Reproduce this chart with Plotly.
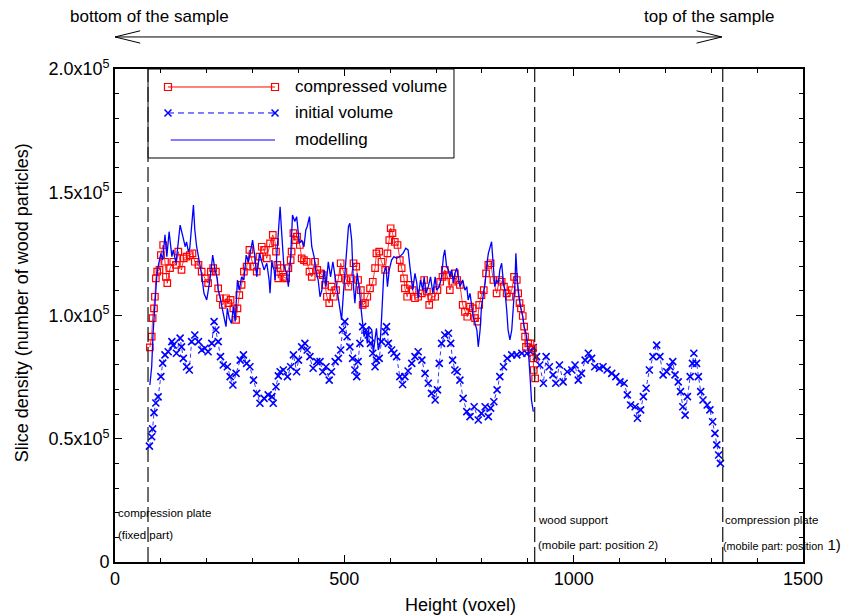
import plotly.graph_objects as go

# ---------------- data ----------------
init_x = [75, 80, 82, 85, 89, 94, 100, 104, 109, 116, 124, 127, 134, 142, 145, 149, 156, 162, 167, 174,
          182, 189, 196, 203, 211, 216, 220, 225, 230, 236, 245, 251, 257, 264, 273, 280, 287, 294, 302, 309,
          316, 325, 334, 342, 345, 351, 356, 360, 367, 376, 383, 389, 396, 400, 407, 414, 419, 425, 432, 440,
          447, 453, 460, 467, 472, 480, 487, 492, 496, 501, 506, 512, 518, 523, 527, 530, 534, 540, 547, 552,
          557, 562, 567, 570, 576, 581, 589, 592, 596, 603, 608, 614, 621, 627, 632, 639, 647, 654, 661, 669,
          676, 683, 690, 698, 703, 707, 712, 719, 727, 732, 736, 741, 746, 752, 759, 767, 774, 783, 792, 799,
          807, 814, 819, 826, 833, 839, 847, 855, 865, 876, 887, 898, 906, 912, 919, 926, 934, 940, 947, 955,
          961, 969, 977, 986, 996, 1003, 1010, 1017, 1025, 1032, 1039, 1046, 1056, 1064, 1073, 1083, 1092, 1101, 1110, 1117,
          1124, 1134, 1139, 1146, 1152, 1158, 1165, 1173, 1181, 1188, 1195, 1203, 1210, 1216, 1221, 1228, 1233, 1238, 1243, 1248,
          1254, 1259, 1262, 1268, 1272, 1277, 1282, 1291, 1297, 1303, 1308, 1312, 1316, 1320]
init_y = [47000, 50800, 54000, 60600, 64500, 67000, 75200, 80700, 84000, 85300, 89400, 88000, 84700, 90800, 87300, 82600, 79200, 77900, 89400, 92100,
          89400, 86000, 86700, 85300, 88700, 97500, 94100, 89400, 83300, 79900, 79200, 75200, 71800, 76500, 81900, 84000, 80600, 79200, 73800, 68400,
          64400, 66400, 67800, 67100, 64400, 71100, 75500, 77200, 77900, 75200, 79200, 84000, 77200, 81900, 87300, 88700, 86000, 83300, 78600, 81300,
          81300, 77200, 79200, 73800, 77200, 81300, 82600, 86000, 94100, 97500, 91400, 87300, 82600, 77900, 75200, 81300, 88700, 95500, 94100, 92100,
          88700, 84700, 79200, 81900, 82600, 89400, 93400, 95500, 88700, 86000, 84700, 83300, 75200, 72000, 75200, 77500, 80600, 83300, 85300, 81900,
          76500, 72500, 68400, 65700, 69800, 80600, 88700, 92100, 92800, 88700, 81900, 77900, 77200, 73800, 66400, 61000, 59000, 63000, 57600, 60300,
          63000, 59000, 62400, 65000, 69800, 75200, 79200, 82600, 84000, 84000, 84700, 84700, 85300, 87000, 83300, 79900, 72500, 83300, 79200, 75900,
          72500, 79900, 73100, 77200, 77900, 79900, 73800, 76500, 81900, 84700, 82600, 79200, 78600, 79200, 77900, 76500, 75200, 73100, 72500, 67800,
          63700, 63000, 58300, 61700, 67100, 70500, 77900, 83300, 88000, 83300, 75900, 77200, 79200, 81300, 75900, 73100, 69100, 63000, 59600, 67100,
          75200, 80600, 84700, 80600, 75200, 69100, 65700, 63700, 61700, 56900, 52200, 47500, 43400, 40000]

comp_x = [76, 80, 82, 85, 87, 89, 92, 97, 100, 105, 109, 111, 114, 120, 127, 133, 138, 145, 150, 156,
          163, 169, 174, 182, 189, 196, 203, 209, 214, 220, 225, 229, 235, 242, 247, 252, 258, 264, 267, 271,
          276, 281, 287, 293, 298, 303, 309, 315, 320, 325, 331, 338, 344, 349, 351, 354, 356, 361, 367, 373,
          378, 383, 385, 389, 392, 397, 403, 407, 412, 418, 424, 429, 436, 441, 447, 453, 458, 462, 467, 472,
          477, 482, 487, 492, 498, 504, 509, 514, 520, 526, 530, 536, 540, 545, 550, 556, 562, 567, 570, 576,
          581, 589, 594, 598, 601, 605, 610, 616, 621, 625, 630, 632, 637, 643, 649, 654, 661, 669, 674, 680,
          685, 690, 698, 703, 709, 714, 719, 724, 730, 736, 741, 746, 752, 758, 763, 768, 774, 780, 785, 790,
          794, 799, 804, 809, 814, 819, 825, 832, 838, 843, 848, 854, 860, 865, 870, 876, 879, 882, 885, 889,
          892, 894, 896, 901, 906, 911, 912, 913, 916]
comp_y = [87100, 91400, 98900, 102900, 107600, 115100, 117800, 118500, 124500, 128600, 121800, 115700, 113100, 119200, 121800, 120500, 125900, 118500, 123200, 123900,
          124500, 125200, 121800, 120500, 117800, 115100, 113100, 117800, 119200, 117800, 111000, 107000, 104300, 107000, 105000, 106300, 102900, 98200, 102900, 108300,
          112400, 117800, 119800, 126600, 122500, 119800, 117800, 123900, 127900, 126600, 123200, 129300, 132700, 129900, 125900, 120500, 115100, 119200, 115700, 115100,
          119200, 122500, 125900, 133400, 130600, 132000, 128600, 123200, 122500, 121800, 117800, 115700, 121800, 118500, 117100, 116400, 112400, 107600, 105000, 111700,
          107600, 110300, 115100, 121200, 117800, 114400, 111700, 115100, 121200, 119800, 114400, 110300, 104300, 105000, 107600, 111000, 113700, 119200, 125200, 125900,
          121800, 118500, 125200, 130600, 135400, 133400, 129900, 128600, 122500, 119200, 115100, 111000, 107600, 112400, 110300, 107000, 107600, 109000, 114400, 109700,
          104300, 107600, 107600, 110300, 113700, 115700, 118500, 116400, 110300, 113700, 117100, 114400, 112400, 104300, 101500, 99500, 103600, 102900, 98900, 97500,
          104300, 108300, 110300, 117100, 120500, 121200, 114400, 109000, 114400, 113700, 111700, 109000, 107600, 110300, 115700, 114400, 109000, 105000, 102900, 99800,
          95500, 91400, 87300, 88700, 88700, 86700, 82600, 77900, 74500]

model_x = [76, 80, 83, 87, 91, 94, 100, 104, 109, 113, 118, 124, 127, 133, 138, 142, 148, 153, 156, 160,
           163, 167, 171, 174, 178, 184, 189, 194, 200, 207, 213, 218, 223, 225, 229, 233, 238, 242, 245, 249,
           254, 258, 262, 267, 271, 276, 281, 286, 291, 294, 300, 305, 309, 315, 320, 325, 331, 336, 338, 342,
           344, 347, 349, 352, 354, 358, 360, 363, 368, 374, 378, 383, 387, 392, 396, 402, 407, 412, 416, 419,
           424, 429, 434, 438, 443, 447, 451, 456, 460, 465, 470, 475, 480, 485, 490, 494, 498, 504, 509, 512,
           516, 520, 523, 528, 533, 536, 540, 543, 547, 550, 554, 560, 563, 567, 570, 574, 578, 581, 585, 586,
           591, 594, 598, 603, 608, 614, 621, 628, 634, 639, 643, 649, 654, 658, 661, 666, 671, 674, 678, 683,
           688, 693, 698, 701, 707, 712, 716, 719, 723, 727, 730, 734, 738, 741, 745, 748, 752, 758, 763, 767,
           770, 774, 778, 781, 785, 789, 792, 796, 799, 803, 807, 810, 814, 818, 821, 825, 828, 832, 836, 839,
           843, 847, 850, 854, 857, 861, 865, 868, 872, 874, 877, 881, 884, 889, 892, 896, 901, 905, 908, 912]
model_y = [71800, 79200, 92800, 106300, 115700, 119800, 125200, 122500, 132700, 123900, 134000, 123900, 126600, 121200, 129300, 136700, 132000, 127900, 129900, 125900,
           127300, 136000, 144800, 134700, 127900, 121800, 116400, 109000, 106300, 114400, 124500, 118500, 115100, 110300, 107600, 103600, 98200, 95500, 102900, 98900,
           96800, 103600, 97500, 114400, 110300, 115700, 114400, 124500, 121800, 125200, 130600, 123900, 115700, 125200, 121200, 118500, 121200, 114400, 109000, 122500,
           119800, 118500, 114400, 123900, 126600, 138700, 144100, 134700, 120500, 117100, 111700, 123900, 140800, 138100, 140100, 129300, 130600, 127900, 134700, 136000,
           140100, 127900, 123900, 117800, 114400, 107600, 110300, 118500, 111700, 121800, 115700, 121800, 115700, 109000, 102200, 98200, 109000, 123900, 136000, 137400,
           130600, 111700, 105000, 117100, 110300, 103600, 96800, 91400, 94100, 88700, 95500, 94100, 84700, 90100, 94800, 86000, 88700, 98200, 110300, 117100,
           119800, 111700, 118500, 122500, 123900, 123200, 123900, 125200, 127300, 126600, 119800, 110300, 117100, 113100, 107000, 114400, 110300, 115700, 109000, 111700,
           115700, 109000, 115700, 110300, 111700, 115700, 123900, 126600, 119800, 118500, 115700, 118500, 113100, 117100, 119200, 115700, 111700, 114400, 110300, 111700,
           106300, 109000, 103600, 99500, 96800, 94100, 87300, 94100, 103600, 107600, 113100, 119800, 125200, 127900, 129900, 119800, 111700, 114400, 113100, 118500,
           121200, 113100, 110300, 102200, 94100, 90100, 94100, 102200, 113100, 125200, 114400, 107600, 103600, 99500, 95500, 92800, 86000, 75200, 65700, 61000]

boundaries = [72, 915, 1325]
y_tickvals = [0, 50000, 100000, 150000, 200000]
y_ticktext = ["0", "0.5x10<sup>5</sup>", "1.0x10<sup>5</sup>", "1.5x10<sup>5</sup>", "2.0x10<sup>5</sup>"]
x_tickvals = [0, 500, 1000, 1500]

series_names = ["compressed volume", "initial volume", "modelling"]

RED = "#ff0000"
BLUE = "#0000ff"
FONT = "Liberation Sans, Arial, sans-serif"

fig = go.Figure()

fig.add_trace(go.Scatter(
    x=init_x, y=init_y, mode="lines+markers", name=series_names[1],
    line=dict(color=BLUE, width=0.8, dash="4px,3px"),
    marker=dict(symbol="x-thin", size=7, line=dict(color=BLUE, width=1.6)),
    showlegend=False))
fig.add_trace(go.Scatter(
    x=comp_x, y=comp_y, mode="lines+markers", name=series_names[0],
    line=dict(color=RED, width=0.8),
    marker=dict(symbol="square-open", size=6.5, color=RED, line=dict(color=RED, width=1.2)),
    showlegend=False))
fig.add_trace(go.Scatter(
    x=model_x, y=model_y, mode="lines", name=series_names[2],
    line=dict(color=BLUE, width=1.3),
    showlegend=False))

# ---------- hand-drawn (MATLAB-style) legend on a hidden overlay axis ----------
lx0, lx1 = 0.077, 0.2326
rows = [0.9635, 0.9108, 0.856]
fig.add_trace(go.Scatter(
    x=[lx0, lx1], y=[rows[0], rows[0]], xaxis="x2", yaxis="y2", mode="lines+markers",
    line=dict(color=RED, width=1),
    marker=dict(symbol="square-open", size=7, color=RED, line=dict(color=RED, width=1.2)),
    showlegend=False, hoverinfo="skip"))
fig.add_trace(go.Scatter(
    x=[lx0, lx1], y=[rows[1], rows[1]], xaxis="x2", yaxis="y2", mode="lines+markers",
    line=dict(color=BLUE, width=1, dash="6px,4px"),
    marker=dict(symbol="x-thin", size=7, line=dict(color=BLUE, width=1.5)),
    showlegend=False, hoverinfo="skip"))
fig.add_trace(go.Scatter(
    x=[lx0 + 0.004, lx1], y=[rows[2], rows[2]], xaxis="x2", yaxis="y2", mode="lines",
    line=dict(color=BLUE, width=1.2),
    showlegend=False, hoverinfo="skip"))

shapes = []
# legend frame
shapes.append(dict(type="rect", xref="paper", yref="paper", x0=0.048, x1=0.4927, y0=0.8195, y1=1.0,
                   line=dict(color="black", width=1), fillcolor="white", layer="below"))
# boundary dashed lines
for b in boundaries:
    shapes.append(dict(type="line", xref="x", yref="paper", x0=b, x1=b, y0=0, y1=1,
                       line=dict(color="#222222", width=1.3, dash="15px,5px")))
# double arrow above the plot
ay = 1.065
shapes.append(dict(type="line", xref="x", yref="paper", x0=0, x1=boundaries[2] - 2, y0=ay, y1=ay,
                   line=dict(color="black", width=1)))
shapes.append(dict(type="path", xref="x", yref="paper",
                   path=f"M 55,{ay + 0.0125} L 0,{ay} L 55,{ay - 0.0125}",
                   line=dict(color="black", width=1)))
xr = boundaries[2] - 2
shapes.append(dict(type="path", xref="x", yref="paper",
                   path=f"M {xr - 55},{ay + 0.0125} L {xr},{ay} L {xr - 55},{ay - 0.0125}",
                   line=dict(color="black", width=1)))

annotations = []
for name, yy in zip(series_names, rows):
    annotations.append(dict(xref="paper", yref="paper", x=0.2587, y=yy, text=name, showarrow=False,
                            xanchor="left", yanchor="middle", font=dict(family=FONT, size=17, color="black")))
annotations += [
    dict(xref="paper", yref="paper", x=-0.069, y=1.1075, text="bottom of the sample", showarrow=False,
         xanchor="left", yanchor="middle", font=dict(family=FONT, size=17, color="black")),
    dict(xref="paper", yref="paper", x=0.7665, y=1.1075, text="top of the sample", showarrow=False,
         xanchor="left", yanchor="middle", font=dict(family=FONT, size=17, color="black")),
    dict(xref="paper", yref="paper", x=0.5015, y=-0.087, text="Height (voxel)", showarrow=False,
         xanchor="center", yanchor="middle", font=dict(family=FONT, size=18, color="black")),
    dict(xref="paper", yref="paper", x=-0.135, y=0.525, text="Slice density (number of wood particles)",
         showarrow=False, textangle=-90, xanchor="center", yanchor="middle",
         font=dict(family=FONT, size=18, color="black")),
]
small = dict(family=FONT, size=11.5, color="black")
annotations += [
    dict(xref="x", yref="paper", x=2, y=0.0994, text="compression plate", showarrow=False,
         xanchor="left", yanchor="middle", font=small),
    dict(xref="x", yref="paper", x=2, y=0.0548, text="(fixed part)", showarrow=False,
         xanchor="left", yanchor="middle", font=small),
    dict(xref="x", yref="paper", x=boundaries[1] + 3, y=0.0852, text="wood support", showarrow=False,
         xanchor="left", yanchor="middle", font=small),
    dict(xref="x", yref="paper", x=boundaries[1] + 3, y=0.0345, text="(mobile part: position 2)",
         showarrow=False, xanchor="left", yanchor="middle", font=small),
    dict(xref="x", yref="paper", x=boundaries[2] + 1, y=0.0852, text="compression plate", showarrow=False,
         xanchor="left", yanchor="middle", font=small),
    dict(xref="x", yref="paper", x=boundaries[2] - 3, y=0.0345,
         text="(mobile part: position<span style='font-size:15px'> 1)</span>",
         showarrow=False, xanchor="left", yanchor="middle",
         font=dict(family=FONT, size=10.8, color="black")),
]

axis_common = dict(showline=True, linecolor="black", linewidth=1.6, mirror="ticks", ticks="inside",
                   ticklen=7, tickwidth=1, tickcolor="black", showgrid=False, zeroline=False,
                   tickfont=dict(family=FONT, size=18, color="black"))

fig.update_layout(
    width=845, height=616,
    margin=dict(l=115, r=42, t=69, b=54),
    paper_bgcolor="white", plot_bgcolor="white",
    showlegend=False,
    xaxis=dict(range=[0, 1500], tickvals=x_tickvals, **axis_common,
               minor=dict(dtick=100, ticks="inside", ticklen=4, tickcolor="black", showgrid=False)),
    yaxis=dict(range=[0, 200000], tickvals=y_tickvals, ticktext=y_ticktext, **axis_common,
               minor=dict(dtick=10000, ticks="inside", ticklen=4, tickcolor="black", showgrid=False)),
    xaxis2=dict(range=[0, 1], overlaying="x", anchor="y2", visible=False),
    yaxis2=dict(range=[0, 1], overlaying="y", anchor="x2", visible=False),
    shapes=shapes, annotations=annotations,
)

fig.write_html("out.html")
